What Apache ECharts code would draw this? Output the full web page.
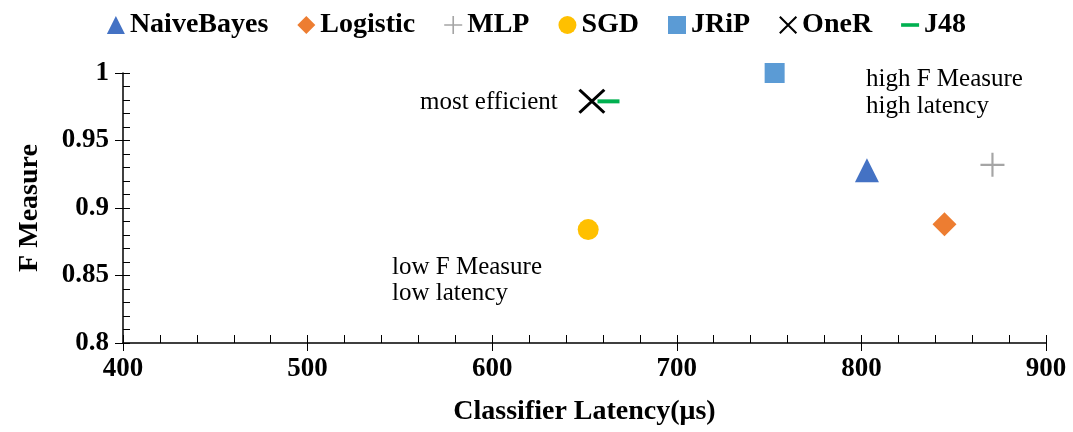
<!DOCTYPE html>
<html>
<head>
<meta charset="utf-8">
<script src="https://cdn.jsdelivr.net/npm/echarts@6/dist/echarts.min.js"></script>
<style>
  html, body { margin: 0; padding: 0; background: #fff; }
  #chart { width: 1073px; height: 432px; }
</style>
</head>
<body>
<div id="chart"></div>
<script>
// Classifier latency (µs) against F Measure, one point per classifier
const classifiers = ['NaiveBayes', 'Logistic', 'MLP', 'SGD', 'JRiP', 'OneR', 'J48'];
const latency = [803, 845, 871, 652, 753, 654, 663];
const fMeasure = [0.928, 0.888, 0.932, 0.884, 1.0, 0.979, 0.979];
const xTicks = [400, 500, 600, 700, 800, 900];
const yTicks = [0.8, 0.85, 0.9, 0.95, 1];

const SERIF = '"Liberation Serif", "Times New Roman", serif';

// marker shapes and colours per classifier
const PLUS = 'path://M0,4.55 H10 V5.45 H0 Z M4.55,0 H5.45 V10 H4.55 Z';
const CROSS = 'path://M0,0.8 L0.8,0 L10,9.2 L9.2,10 Z M10,0.8 L0.8,10 L0,9.2 L9.2,0 Z';
const DASH = 'path://M0,0 H10 V2 H0 Z';
const markers = [
  { symbol: 'triangle', size: 24, color: '#4472C4' },
  { symbol: 'diamond', size: 24, color: '#ED7D31' },
  { symbol: PLUS, size: 24, color: '#A5A5A5' },
  { symbol: 'circle', size: 21, color: '#FFC000' },
  { symbol: 'rect', size: 20, color: '#5B9BD5' },
  { symbol: CROSS, size: [27, 25], color: '#000000' },
  { symbol: DASH, size: [22, 4], color: '#00B050' }
];

const series = classifiers.map((name, i) => ({
  name,
  type: 'scatter',
  symbol: markers[i].symbol,
  symbolSize: markers[i].size,
  symbolKeepAspect: false,
  itemStyle: { color: markers[i].color, opacity: 1 },
  emphasis: { disabled: true },
  data: [[latency[i], fMeasure[i]]]
}));

const axisLine = { show: true, onZero: false, lineStyle: { color: '#000', width: 1.5 } };

const chart = echarts.init(document.getElementById('chart'), null, { renderer: 'canvas' });
chart.setOption({
  animation: false,
  backgroundColor: '#ffffff',
  legend: {
    top: 6,
    left: 'center',
    itemWidth: 18,
    itemHeight: 18,
    itemGap: 29,
    symbolKeepAspect: true,
    textStyle: { fontFamily: SERIF, fontWeight: 'bold', fontSize: 28, color: '#000' },
    data: classifiers.map((name, i) => ({ name, icon: markers[i].symbol }))
  },
  grid: { left: 123, right: 27, top: 73, bottom: 89, containLabel: false },
  xAxis: [
    {
      type: 'value', min: 400, max: 900, interval: 100,
      name: 'Classifier Latency(μs)', nameLocation: 'middle', nameGap: 55,
      nameTextStyle: { fontFamily: SERIF, fontWeight: 'bold', fontSize: 28, color: '#000' },
      axisLine,
      axisTick: { show: true, inside: false, length: 8, lineStyle: { color: '#000', width: 1 } },
      axisLabel: { fontFamily: SERIF, fontWeight: 'bold', fontSize: 27, color: '#000', margin: 13,
        formatter: v => (xTicks.includes(v) ? String(v) : '') },
      splitLine: { show: false }
    },
    {
      // inner minor ticks every 20 µs
      type: 'value', min: 400, max: 900, interval: 20, position: 'bottom',
      axisLine: { show: false },
      axisTick: { show: true, inside: true, length: 8, lineStyle: { color: '#000', width: 1 } },
      axisLabel: { show: false },
      splitLine: { show: false }
    }
  ],
  yAxis: [
    {
      type: 'value', min: 0.8, max: 1, interval: 0.05,
      name: 'F Measure', nameLocation: 'middle', nameGap: 79,
      nameTextStyle: { fontFamily: SERIF, fontWeight: 'bold', fontSize: 28, color: '#000' },
      axisLine,
      axisTick: { show: true, inside: false, length: 8, lineStyle: { color: '#000', width: 1 } },
      axisLabel: { fontFamily: SERIF, fontWeight: 'bold', fontSize: 27, color: '#000', margin: 14,
        formatter: v => {
          const t = yTicks.find(y => Math.abs(y - v) < 1e-9);
          return t === undefined ? '' : String(t);
        } },
      splitLine: { show: false }
    },
    {
      // inner minor ticks every 0.01
      type: 'value', min: 0.8, max: 1, interval: 0.01, position: 'left',
      axisLine: { show: false },
      axisTick: { show: true, inside: true, length: 7, lineStyle: { color: '#000', width: 1 } },
      axisLabel: { show: false },
      splitLine: { show: false }
    }
  ],
  series,
  graphic: [
    {
      type: 'text', left: 420, top: 90, silent: true,
      style: { text: 'most efficient', font: '25px ' + SERIF, fill: '#000' }
    },
    {
      type: 'text', left: 866, top: 66, silent: true,
      style: { text: 'high F Measure\nhigh latency', font: '25px ' + SERIF, fill: '#000', lineHeight: 27 }
    },
    {
      type: 'text', left: 392, top: 254, silent: true,
      style: { text: 'low F Measure\nlow latency', font: '25px ' + SERIF, fill: '#000', lineHeight: 26 }
    }
  ]
});
</script>
</body>
</html>
